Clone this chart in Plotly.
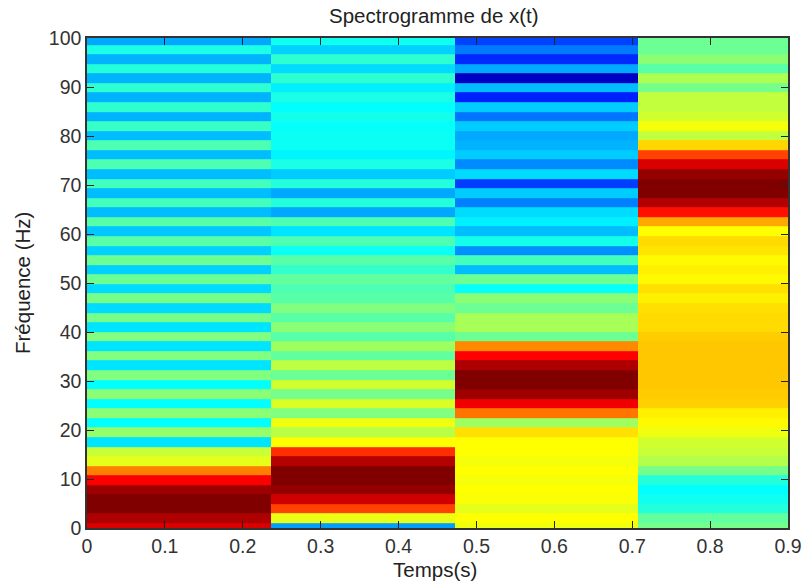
import plotly.graph_objects as go

title_text = "Spectrogramme de x(t)"
xlabel = "Temps(s)"
ylabel = "Fréquence (Hz)"
x_ticks = [0, 0.1, 0.2, 0.3, 0.4, 0.5, 0.6, 0.7, 0.8, 0.9]
x_tick_labels = ["0", "0.1", "0.2", "0.3", "0.4", "0.5", "0.6", "0.7", "0.8", "0.9"]
y_ticks = [0, 10, 20, 30, 40, 50, 60, 70, 80, 90, 100]

# Time-window edges (s)
time_edges = [0, 0.236, 0.472, 0.707, 0.9]
# Frequency resolution (Hz per bin)
freq_step = 1.953

# Normalised power per window, listed from the top frequency bin (k=51) to the lowest (k=0)
window1 = [.29,.40,.30,.41,.30,.42,.30,.42,.30,.43,.31,.45,.31,.45,.31,.44,.31,.44,.31,.46,.32,.46,.33,.48,.33,.48,
           .34,.49,.34,.49,.35,.50,.35,.50,.35,.50,.375,.51,.375,.51,.375,.52,.35,.57,.60,.75,.88,.97,1,1,.955,.91]
window2 = [.39,.33,.42,.34,.42,.36,.40,.375,.395,.38,.385,.385,.365,.40,.325,.41,.29,.41,.29,.45,.35,.45,.385,.46,.425,.47,
           .45,.46,.50,.46,.51,.46,.53,.47,.56,.48,.58,.49,.59,.50,.61,.555,.625,.83,.95,1,1,.98,.92,.81,.605,.28]
window3 = [.19,.245,.165,.29,.06,.31,.155,.325,.24,.325,.29,.30,.325,.26,.34,.185,.325,.25,.34,.36,.31,.395,.265,.44,.31,.48,
           .38,.51,.48,.54,.54,.48,.74,.875,.955,1,1,.97,.89,.76,.53,.655,.625,.625,.615,.625,.615,.625,.62,.60,.625,.61]
window4 = [.48,.48,.51,.46,.545,.49,.565,.565,.58,.615,.565,.665,.81,.91,.98,1,1,.95,.86,.71,.625,.66,.65,.63,.64,.63,
           .655,.64,.655,.66,.66,.675,.68,.68,.68,.68,.68,.675,.67,.64,.63,.61,.58,.57,.55,.49,.41,.375,.39,.41,.47,.49]

jet_colors = [[0, "rgb(0,0,143)"], [0.125, "rgb(0,0,255)"], [0.375, "rgb(0,255,255)"],
              [0.625, "rgb(255,255,0)"], [0.875, "rgb(255,0,0)"], [1, "rgb(128,0,0)"]]

windows = [window1, window2, window3, window4]
n_bins = len(window1)
freq_edges = [(k - 0.5) * freq_step for k in range(n_bins + 1)]
z = [[w[n_bins - 1 - k] for w in windows] for k in range(n_bins)]

fig = go.Figure(go.Heatmap(
    x=time_edges, y=freq_edges, z=z,
    zmin=0, zmax=1, colorscale=jet_colors, showscale=False,
))

axis_common = dict(
    automargin=False,
    showgrid=False, zeroline=False, showline=True, linecolor="#333333", linewidth=1.5,
    mirror="ticks", ticks="inside", ticklen=7, tickcolor="#222222", tickwidth=1.2,
    tickfont=dict(family="Liberation Sans, Arial, sans-serif", size=19.5, color="#333333"),
)
fig.update_xaxes(range=[0, 0.9], tickvals=x_ticks, ticktext=x_tick_labels, **axis_common)
fig.update_yaxes(range=[0, 100], tickvals=y_ticks, **axis_common)

label_font = dict(family="Liberation Sans, Arial, sans-serif", size=20.5, color="#222222")
fig.update_layout(
    width=803, height=583, autosize=False,
    margin=dict(l=87, r=15, t=38, b=55),
    paper_bgcolor="white", plot_bgcolor="white",
    annotations=[
        dict(text=title_text, xref="paper", yref="paper", x=0.495, y=1, yshift=23,
             showarrow=False, xanchor="center", yanchor="middle", font=label_font),
        dict(text=xlabel, xref="paper", yref="paper", x=0.497, y=0, yshift=-41,
             showarrow=False, xanchor="center", yanchor="middle", font=label_font),
        dict(text=ylabel, xref="paper", yref="paper", x=0, y=0.5, xshift=-65,
             showarrow=False, xanchor="center", yanchor="middle", textangle=-90, font=label_font),
    ],
)
fig.write_html("out.html", config={"displayModeBar": False}, post_script="document.body.style.margin='0';")
